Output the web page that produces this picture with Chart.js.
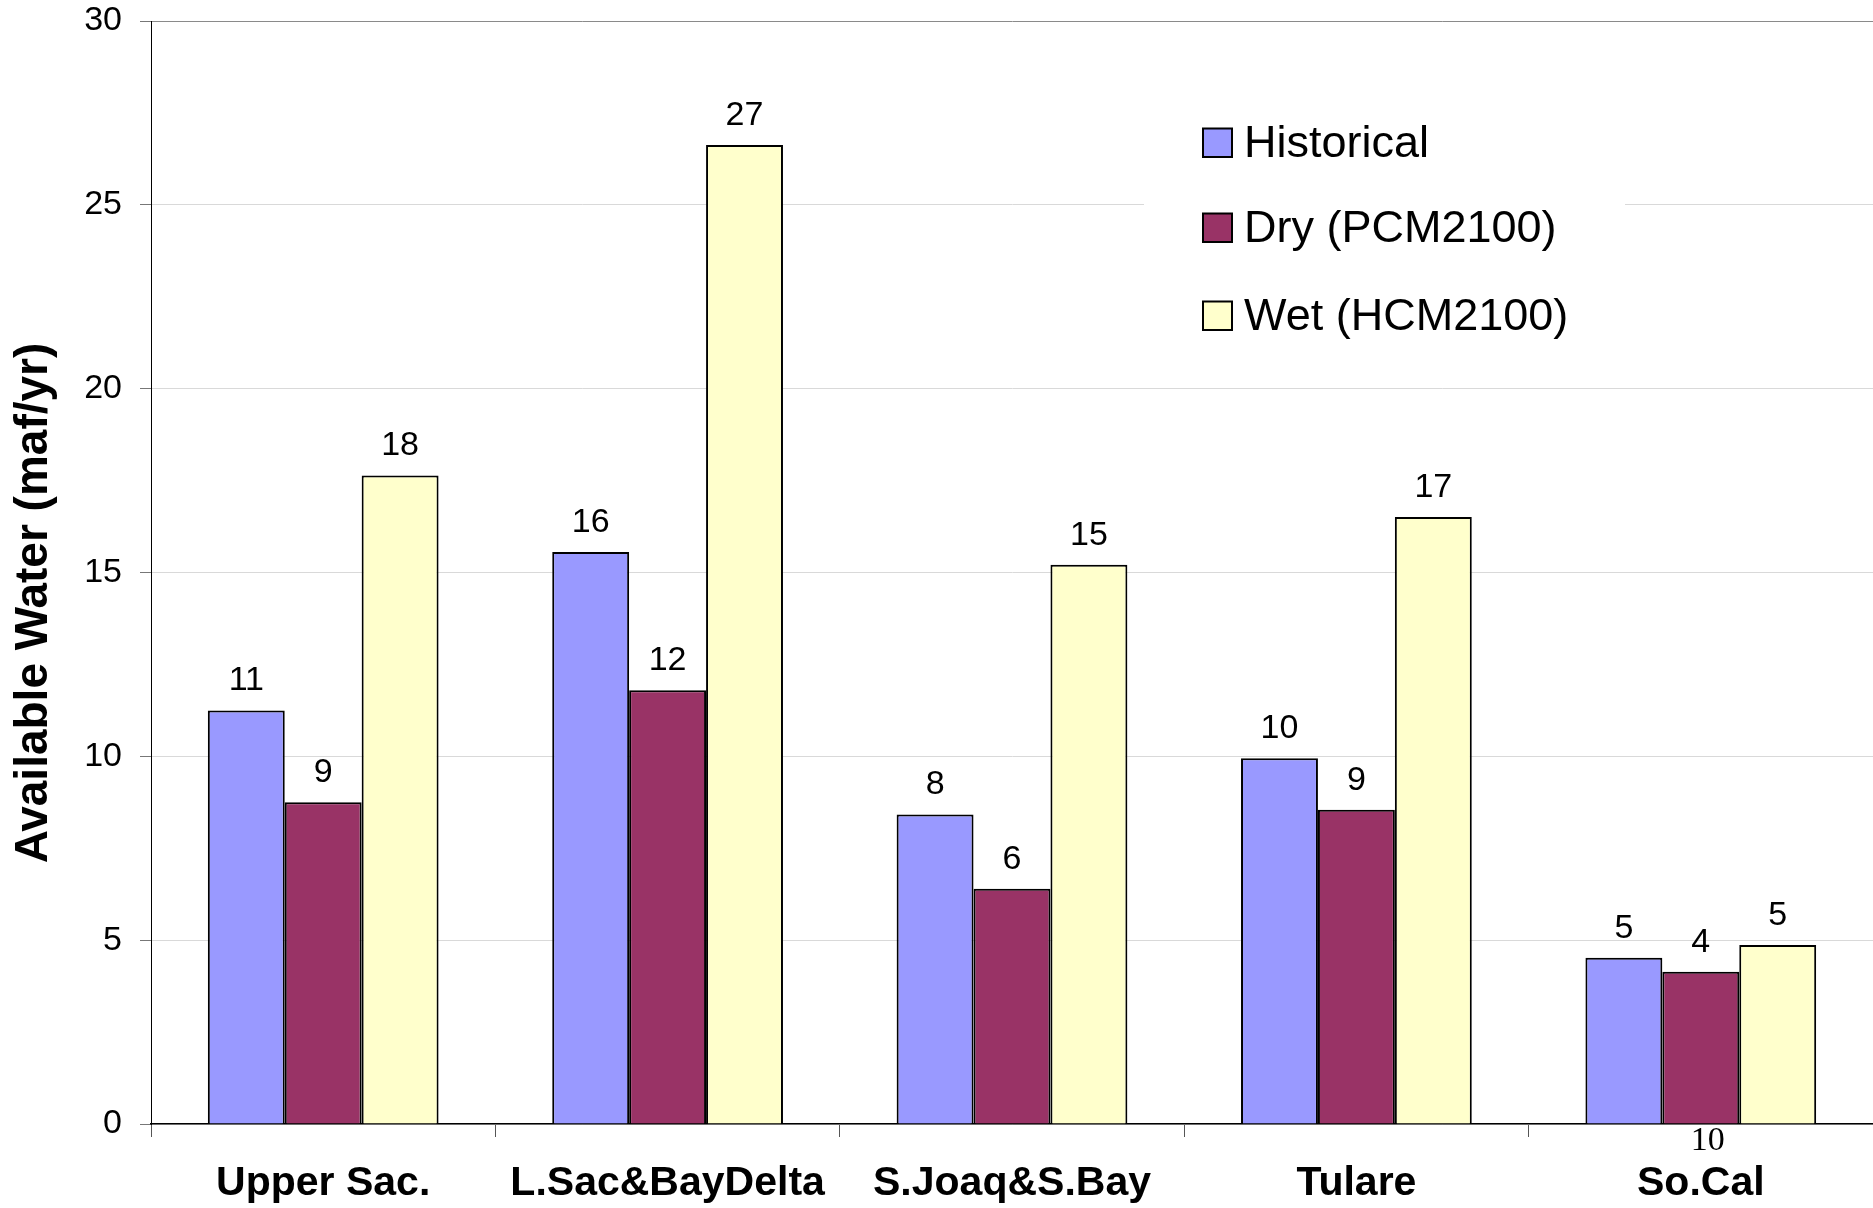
<!DOCTYPE html>
<html>
<head>
<meta charset="utf-8">
<script src="https://cdn.jsdelivr.net/npm/chart.js@4/dist/chart.umd.min.js"></script>
<style>
  html, body { margin: 0; padding: 0; background: #fff; }
  canvas { display: block; }
</style>
</head>
<body>
<canvas id="c" width="1873" height="1208"></canvas>
<script>
const categories = ["Upper Sac.", "L.Sac&BayDelta", "S.Joaq&S.Bay", "Tulare", "So.Cal"];
const seriesNames = ["Historical", "Dry (PCM2100)", "Wet (HCM2100)"];
const historical = [11.25, 15.56, 8.42, 9.95, 4.52];
const dry = [8.75, 11.80, 6.40, 8.55, 4.14];
const wet = [17.64, 26.63, 15.21, 16.51, 4.87];
const yTicks = [0, 5, 10, 15, 20, 25, 30];
const yTitle = "Available Water (maf/yr)";
const strayText = "10";

const FONT = "'Liberation Sans', Arial, sans-serif";

const dataLabels = {
  id: 'dataLabels',
  afterDatasetsDraw(chart) {
    const ctx = chart.ctx;
    ctx.save();
    ctx.font = "34px " + FONT;
    ctx.fillStyle = "#000";
    ctx.textAlign = "center";
    ctx.textBaseline = "alphabetic";
    chart.data.datasets.forEach((ds, i) => {
      const meta = chart.getDatasetMeta(i);
      meta.data.forEach((el, j) => {
        ctx.fillText(String(Math.round(ds.data[j])), el.x, el.y - 20);
      });
    });
    ctx.restore();
  }
};

const customLegend = {
  id: 'customLegend',
  afterDraw(chart) {
    const ctx = chart.ctx;
    ctx.save();
    ctx.fillStyle = "#fff";
    ctx.fillRect(1144, 80, 481, 280);
    const baselines = [157, 242, 330];
    ctx.font = "45px " + FONT;
    ctx.textAlign = "left";
    ctx.textBaseline = "alphabetic";
    chart.data.datasets.forEach((ds, i) => {
      const b = baselines[i];
      ctx.fillStyle = ds.backgroundColor;
      ctx.fillRect(1203, b - 28.5, 29, 28.5);
      ctx.strokeStyle = "#000";
      ctx.lineWidth = 2;
      ctx.strokeRect(1203, b - 28.5, 29, 28.5);
      ctx.fillStyle = "#000";
      ctx.fillText(ds.label, 1244, b);
    });
    // y-axis title
    ctx.save();
    ctx.translate(34, 603);
    ctx.rotate(-Math.PI / 2);
    ctx.font = "bold 46px " + FONT;
    ctx.textAlign = "center";
    ctx.textBaseline = "middle";
    ctx.fillStyle = "#000";
    ctx.fillText(yTitle, 0, 0);
    ctx.restore();
    // stray annotation text under So.Cal
    const xs = chart.scales.x;
    ctx.font = "34px 'Liberation Serif', 'Times New Roman', serif";
    ctx.textAlign = "center";
    ctx.fillStyle = "#000";
    ctx.fillText(strayText, xs.getPixelForValue(4) + 7, 1150);
    ctx.restore();
  }
};

new Chart(document.getElementById('c'), {
  type: 'bar',
  data: {
    labels: categories,
    datasets: [
      { label: seriesNames[0], data: historical, backgroundColor: '#9999FF', borderColor: '#000', borderWidth: 2 },
      { label: seriesNames[1], data: dry, backgroundColor: '#993366', borderColor: '#000', borderWidth: 2 },
      { label: seriesNames[2], data: wet, backgroundColor: '#FFFFCC', borderColor: '#000', borderWidth: 2 }
    ]
  },
  options: {
    responsive: false,
    animation: false,
    devicePixelRatio: 1,
    layout: { padding: { top: 21, right: 0, left: 0, bottom: 0 } },
    datasets: { bar: { categoryPercentage: 0.67, barPercentage: 1.0 } },
    plugins: {
      legend: { display: false },
      tooltip: { enabled: false }
    },
    scales: {
      x: {
        grid: { drawOnChartArea: false, tickLength: 13, tickColor: '#555', offset: true },
        border: { color: '#000', width: 1.5 },
        ticks: { font: { family: FONT, size: 41, weight: 'bold' }, color: '#000', padding: 22, maxRotation: 0 },
        afterFit(scale) { scale.height = 84; scale.paddingLeft = 0; scale.paddingRight = 0; }
      },
      y: {
        min: 0, max: 30,
        afterBuildTicks(scale) { scale.ticks = yTicks.map(v => ({ value: v })); },
        grid: {
          color: (c) => (c.tick && c.tick.value === 30) ? '#8a8a8a' : '#d9d9d9',
          tickColor: '#777',
          tickLength: 11,
          lineWidth: 1
        },
        border: { color: '#000', width: 1 },
        ticks: { font: { family: FONT, size: 34 }, color: '#000', padding: 18 },
        title: { display: false, text: yTitle },
        afterFit(scale) { scale.width = 151; scale.paddingTop = 0; scale.paddingBottom = 0; }
      }
    }
  },
  plugins: [dataLabels, customLegend]
});
</script>
</body>
</html>
